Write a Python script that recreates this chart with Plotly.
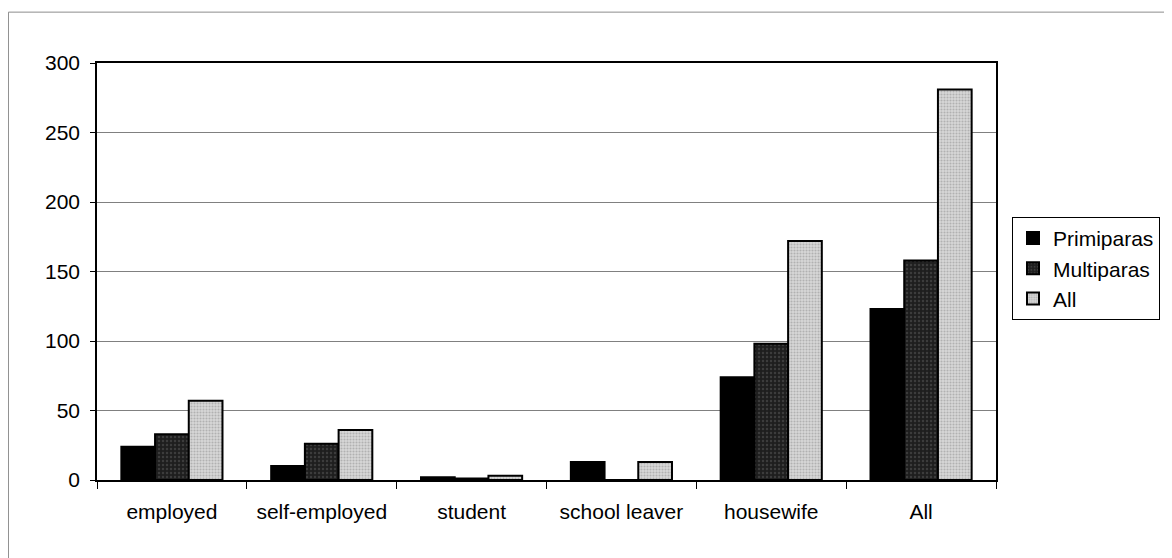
import plotly.graph_objects as go

categories = ["employed", "self-employed", "student", "school leaver", "housewife", "All"]
primiparas = [24, 10, 2, 13, 74, 123]
multiparas = [33, 26, 1, 0, 98, 158]
all_women = [57, 36, 3, 13, 172, 281]
y_ticks = [0, 50, 100, 150, 200, 250, 300]

font = "Liberation Sans, Arial, sans-serif"

fig = go.Figure()
fig.add_trace(go.Bar(
    name="Primiparas", x=categories, y=primiparas,
    marker=dict(color="#000000", line=dict(color="#000000", width=2)),
))
fig.add_trace(go.Bar(
    name="Multiparas", x=categories, y=multiparas,
    marker=dict(color="#2a2a2a", line=dict(color="#000000", width=2),
                pattern=dict(shape=".", fgcolor="#5a5a5a", bgcolor="#1e1e1e", size=4, solidity=0.3)),
))
fig.add_trace(go.Bar(
    name="All", x=categories, y=all_women,
    marker=dict(color="#c0c0c0", line=dict(color="#000000", width=2),
                pattern=dict(shape=".", fgcolor="#8a8a8a", bgcolor="#d8d8d8", size=3, solidity=0.4)),
))

fig.update_layout(
    width=1172, height=558,
    margin=dict(l=89, r=184, t=55, b=86),
    paper_bgcolor="white", plot_bgcolor="white",
    barmode="group", bargap=0.325, bargroupgap=0,
    font=dict(family=font, size=21, color="#000000"),
    showlegend=True,
    legend=dict(
        x=1.0178, y=0.631, xanchor="left", yanchor="top",
        bordercolor="#000000", borderwidth=1,
        font=dict(family=font, size=21, color="#000000"),
        itemwidth=30, tracegroupgap=0,
    ),
    xaxis=dict(
        showline=True, linecolor="#000000", linewidth=1.5, mirror=True,
        ticks="outside", tickson="boundaries", ticklen=7, tickcolor="#000000",
        showgrid=False, tickfont=dict(size=21), ticklabelstandoff=12,
    ),
    yaxis=dict(
        range=[0, 300], tickvals=y_ticks,
        showline=True, linecolor="#000000", linewidth=1.5, mirror=True,
        ticks="outside", ticklen=5, tickcolor="#000000",
        showgrid=True, gridcolor="#808080", gridwidth=1,
        tickfont=dict(size=21), zeroline=False, ticklabelstandoff=6,
    ),
    shapes=[
        dict(type="line", xref="paper", yref="paper", x0=-0.0985, x1=1.2, y0=1.122, y1=1.122,
             line=dict(color="#8c8c8c", width=1)),
        dict(type="line", xref="paper", yref="paper", x0=-0.0985, x1=-0.0985, y0=-0.21, y1=1.122,
             line=dict(color="#8c8c8c", width=1)),
    ],
)

fig.write_html("out.html")
